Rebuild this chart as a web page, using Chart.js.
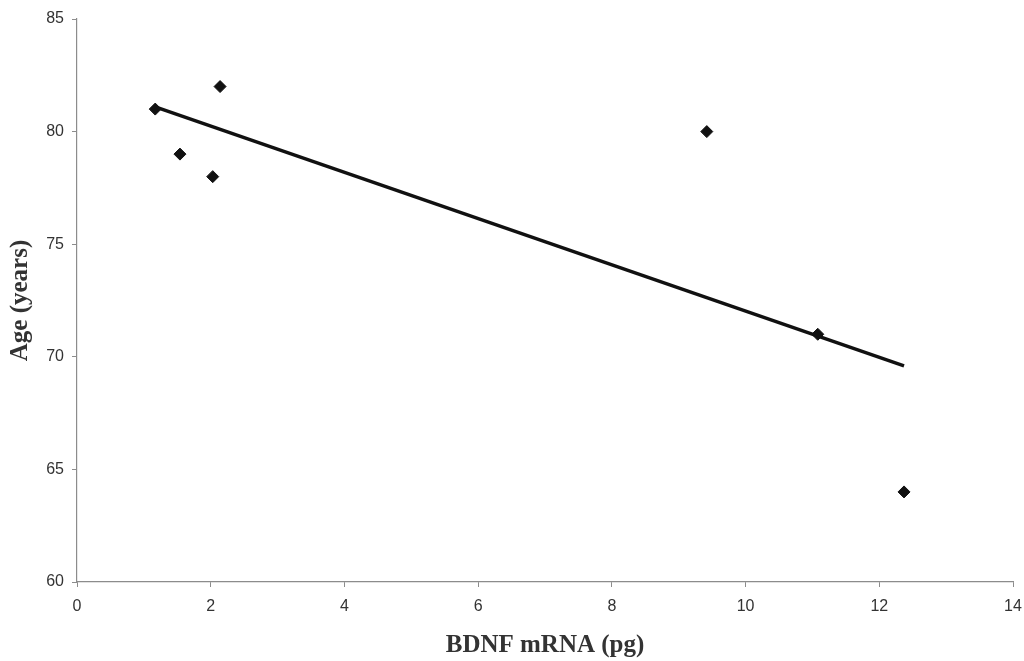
<!DOCTYPE html>
<html>
<head>
<meta charset="utf-8">
<script src="https://cdn.jsdelivr.net/npm/chart.js@4/dist/chart.umd.min.js"></script>
<style>
    html, body { margin: 0; padding: 0; background: #fff; }
    #wrap { width: 1024px; height: 661px; }
</style>
</head>
<body>
<div id="wrap"><canvas id="grafico" width="1024" height="661"></canvas></div>
<script>
// BDNF mRNA (pg) against age for each subject
const bdnf = [1.17, 1.54, 2.03, 2.14, 9.42, 11.08, 12.37]
const idade = [81, 79, 78, 82, 80, 71, 64]

// end points of the fitted trend line
const tendenciaX = [1.17, 12.37]
const tendenciaY = [81.1, 69.6]

const ticksX = [0, 2, 4, 6, 8, 10, 12, 14]
const ticksY = [60, 65, 70, 75, 80, 85]

function juntaPontos(xs, ys) {
    return xs.map((x, i) => ({ x: x, y: ys[i] }))
}

const corEixo = '#8c8c8c'
const fonteTicks = { family: '"Liberation Sans", Arial, sans-serif', size: 16 }
const fonteTitulo = { family: '"Liberation Serif", "Times New Roman", serif', size: 25, weight: 'bold' }

const grafico = new Chart(document.getElementById('grafico'), {
    type: 'scatter',
    data: {
        datasets: [{
            label: 'Age',
            data: juntaPontos(bdnf, idade),
            pointStyle: 'rectRot',
            pointRadius: 6,
            pointBackgroundColor: '#111',
            pointBorderColor: '#111',
            pointBorderWidth: 1,
            showLine: false
        }, {
            label: 'Linear',
            data: juntaPontos(tendenciaX, tendenciaY),
            showLine: true,
            borderColor: '#111',
            borderWidth: 3.5,
            pointRadius: 0,
            fill: false
        }]
    },
    options: {
        responsive: false,
        animation: false,
        layout: { padding: { top: 19, right: 11, left: 0, bottom: 0 } },
        plugins: {
            legend: { display: false },
            tooltip: { enabled: false }
        },
        scales: {
            x: {
                type: 'linear',
                min: 0,
                max: 14,
                // fixed axis band so the plot area keeps its place
                afterFit: scale => {
                    scale.height = 79
                    scale.paddingLeft = 0
                    scale.paddingRight = 0
                },
                afterBuildTicks: scale => { scale.ticks = ticksX.map(v => ({ value: v })) },
                border: { color: corEixo, width: 1.2 },
                grid: { drawOnChartArea: false, tickLength: 5, tickColor: corEixo },
                ticks: { color: '#333', font: fonteTicks, padding: 10 },
                title: {
                    display: true,
                    text: 'BDNF mRNA (pg)',
                    color: '#333',
                    font: fonteTitulo,
                    padding: { top: 0, bottom: 0 }
                }
            },
            y: {
                type: 'linear',
                min: 60,
                max: 85,
                afterFit: scale => {
                    scale.width = 77
                    scale.paddingTop = 0
                    scale.paddingBottom = 0
                },
                afterBuildTicks: scale => { scale.ticks = ticksY.map(v => ({ value: v })) },
                border: { color: corEixo, width: 1.2 },
                grid: { drawOnChartArea: false, tickLength: 5, tickColor: corEixo },
                ticks: { color: '#333', font: fonteTicks, padding: 8 },
                title: {
                    display: true,
                    text: 'Age (years)',
                    color: '#333',
                    font: fonteTitulo,
                    padding: { top: 6, bottom: 0 }
                }
            }
        }
    }
})
</script>
</body>
</html>
